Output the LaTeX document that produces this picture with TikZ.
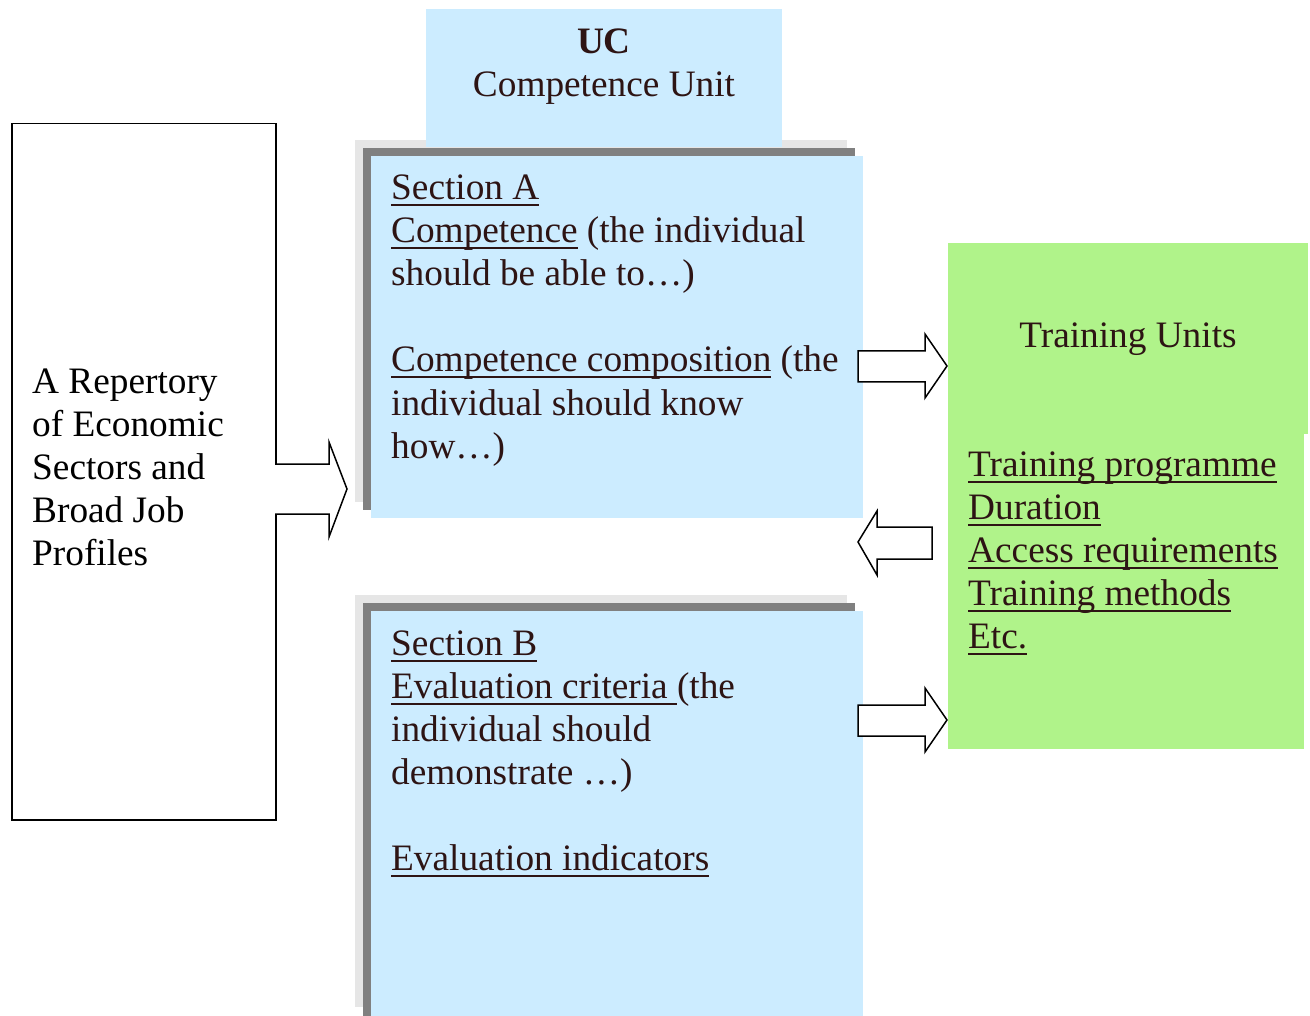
\documentclass[tikz,border=0pt]{standalone}
\usepackage{fontspec}
\setmainfont{Liberation Serif}
\definecolor{boxblue}{RGB}{204,236,255}
\definecolor{boxgreen}{RGB}{176,243,138}
\definecolor{shadedark}{RGB}{128,128,128}
\definecolor{shadelight}{RGB}{230,230,230}
\definecolor{txtdark}{RGB}{45,20,20}
\newsavebox\ulbox
\newcommand\uln[1]{\sbox\ulbox{#1}\rlap{\rule[-6.5pt]{\wd\ulbox}{2pt}}\usebox\ulbox}
\begin{document}
\begin{tikzpicture}[x=1pt,y=-1pt,
  ln/.style={anchor=base west,inner sep=0pt,font=\fontsize{37.3}{43}\selectfont,text=txtdark},
  lnc/.style={anchor=base,inner sep=0pt,font=\fontsize{37.3}{43}\selectfont,text=txtdark},
  blockarrow/.style={draw=black,fill=white,line width=1.5pt,line join=miter}]
\useasboundingbox (0,0) rectangle (1310,1016);
\fill[white] (0,0) rectangle (1310,1016);

% left box
\node[draw=black,line width=1.5pt,fill=white,minimum width=264pt,minimum height=696pt,inner sep=0pt,anchor=north west] (rep) at (11,123) {};
\node[ln,text=black] (r1) at (32,393) {A Repertory};
\node[ln,text=black] (r2) at (32,436) {of Economic};
\node[ln,text=black] (r3) at (32,479) {Sectors and};
\node[ln,text=black] (r4) at (32,522) {Broad Job};
\node[ln,text=black] (r5) at (32,565) {Profiles};

% Section A shadows, UC box, section A
\fill[shadelight] (355,140) rectangle (847,502);
\node[fill=boxblue,minimum width=356pt,minimum height=138pt,inner sep=0pt,anchor=north west] (uc) at (426,9) {};
\fill[shadedark] (363,148) rectangle (855,510);
\node[fill=boxblue,minimum width=492pt,minimum height=362pt,inner sep=0pt,anchor=north west] (secA) at (371,156) {};

\node[lnc] (uc1) at (604,54) {\bfseries UC};
\node[lnc] (uc2) at (604,97) {Competence Unit};

\node[ln] (a1) at (391,200) {\uln{Section A}};
\node[ln] (a2) at (391,243) {\uln{Competence} (the individual};
\node[ln] (a3) at (391,286) {should be able to…)};
\node[ln] (a4) at (391,372) {\uln{Competence composition} (the};
\node[ln] (a5) at (391,415) {individual should know};
\node[ln] (a6) at (391,458) {how…)};

% Section B
\fill[shadelight] (355,595) rectangle (847,1007);
\fill[shadedark] (363,603) rectangle (855,1016);
\node[fill=boxblue,minimum width=492pt,minimum height=412pt,inner sep=0pt,anchor=north west] (secB) at (371,611) {};

\node[ln] (b1) at (391,655) {\uln{Section B}};
\node[ln] (b2) at (391,698) {\uln{Evaluation criteria }(the};
\node[ln] (b3) at (391,741) {individual should};
\node[ln] (b4) at (391,784) {demonstrate …)};
\node[ln] (b5) at (391,870) {\uln{Evaluation indicators}};

% Training units (green)
\fill[boxgreen] (948,243) rectangle (1308,434);
\node[fill=boxgreen,minimum width=356pt,minimum height=316pt,inner sep=0pt,anchor=north west] (tu) at (948,433) {};
\node[lnc] (t0) at (1128,348) {Training Units};
\node[ln] (t1) at (968,476) {\uln{Training programme}};
\node[ln] (t2) at (968,519) {\uln{Duration}};
\node[ln] (t3) at (968,562) {\uln{Access requirements}};
\node[ln] (t4) at (968,605) {\uln{Training methods}};
\node[ln] (t5) at (968,648) {\uln{Etc.}};

% block arrows
\draw[blockarrow] (275,464) -- (329,464) -- (329,442) -- (347,489) -- (329,537) -- (329,514) -- (275,514);
\draw[blockarrow] (858,351) -- (925,351) -- (925,334) -- (947,366) -- (925,398) -- (925,382) -- (858,382) -- cycle;
\draw[blockarrow] (932,527) -- (877,527) -- (877,511) -- (858,542) -- (877,575) -- (877,559) -- (932,559) -- cycle;
\draw[blockarrow] (858,705) -- (925,705) -- (925,688) -- (947,720) -- (925,752) -- (925,736) -- (858,736) -- cycle;
\end{tikzpicture}
\end{document}
